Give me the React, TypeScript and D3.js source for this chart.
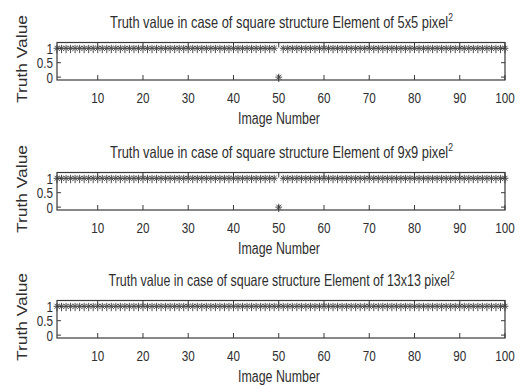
import React from "react";
import * as d3 from "d3";

// Truth values for image numbers 1..100 (one value per image)
const truth5x5 = [
  1, 1, 1, 1, 1, 1, 1, 1, 1, 1,
  1, 1, 1, 1, 1, 1, 1, 1, 1, 1,
  1, 1, 1, 1, 1, 1, 1, 1, 1, 1,
  1, 1, 1, 1, 1, 1, 1, 1, 1, 1,
  1, 1, 1, 1, 1, 1, 1, 1, 1, 0,
  1, 1, 1, 1, 1, 1, 1, 1, 1, 1,
  1, 1, 1, 1, 1, 1, 1, 1, 1, 1,
  1, 1, 1, 1, 1, 1, 1, 1, 1, 1,
  1, 1, 1, 1, 1, 1, 1, 1, 1, 1,
  1, 1, 1, 1, 1, 1, 1, 1, 1, 1,
];
const truth9x9 = [
  1, 1, 1, 1, 1, 1, 1, 1, 1, 1,
  1, 1, 1, 1, 1, 1, 1, 1, 1, 1,
  1, 1, 1, 1, 1, 1, 1, 1, 1, 1,
  1, 1, 1, 1, 1, 1, 1, 1, 1, 1,
  1, 1, 1, 1, 1, 1, 1, 1, 1, 0,
  1, 1, 1, 1, 1, 1, 1, 1, 1, 1,
  1, 1, 1, 1, 1, 1, 1, 1, 1, 1,
  1, 1, 1, 1, 1, 1, 1, 1, 1, 1,
  1, 1, 1, 1, 1, 1, 1, 1, 1, 1,
  1, 1, 1, 1, 1, 1, 1, 1, 1, 1,
];
const truth13x13 = [
  1, 1, 1, 1, 1, 1, 1, 1, 1, 1,
  1, 1, 1, 1, 1, 1, 1, 1, 1, 1,
  1, 1, 1, 1, 1, 1, 1, 1, 1, 1,
  1, 1, 1, 1, 1, 1, 1, 1, 1, 1,
  1, 1, 1, 1, 1, 1, 1, 1, 1, 1,
  1, 1, 1, 1, 1, 1, 1, 1, 1, 1,
  1, 1, 1, 1, 1, 1, 1, 1, 1, 1,
  1, 1, 1, 1, 1, 1, 1, 1, 1, 1,
  1, 1, 1, 1, 1, 1, 1, 1, 1, 1,
  1, 1, 1, 1, 1, 1, 1, 1, 1, 1,
];

const panelTitles = [
  "Truth value in case of square structure Element of 5x5 pixel",
  "Truth value in case of square structure Element of 9x9 pixel",
  "Truth value in case of square structure Element of 13x13 pixel",
];
const panelSeries = [truth5x5, truth9x9, truth13x13];
const xTicks = [10, 20, 30, 40, 50, 60, 70, 80, 90, 100];
const yTicks = [0, 0.5, 1];
const yTickLabels = ["0", "0.5", "1"];
const xDomain = [1, 100];
const yDomain = [-0.1, 1.2];
const xLabel = "Image Number";
const yLabel = "Truth Value";

const W = 524;
const H = 388;
const panelOffsets = [0, 130, 258];
const titleLengths = [343, 343, 346];

const font = "'Liberation Sans', Arial, sans-serif";
const ink = "#3a3a3a";
const txt = "#2e2e2e";
const SX = 0.78; // horizontal squeeze of the original figure's text

function NText({ x, y, anchor = "middle", size, children }: { x: number; y: number; anchor?: string; size: number; children: React.ReactNode }) {
  return (
    <text transform={`translate(${x},${y}) scale(${SX},1)`} textAnchor={anchor} fontFamily={font} fontSize={size} fill={txt}>
      {children}
    </text>
  );
}

function Panel({ values, title, oy, titleLen }: { values: number[]; title: string; oy: number; titleLen: number }) {
  const x = d3.scaleLinear().domain(xDomain).range([57, 505]);
  const y = d3.scaleLinear().domain(yDomain).range([80, 42.5]);
  const left = x(xDomain[0]);
  const right = x(xDomain[1]);
  const top = y(yDomain[1]);
  const bottom = y(yDomain[0]);
  const cx = 281.5;
  const r = 3.4;
  return (
    <g transform={`translate(0,${oy})`}>
      {/* title with superscript */}
      <text x={cx} y={27.5} textAnchor="middle" fontFamily={font} fontSize={16.5} fill={txt}
        textLength={titleLen} lengthAdjust="spacingAndGlyphs">
        {title}
        <tspan fontSize={11} dy={-7}>2</tspan>
      </text>
      {/* axes box */}
      <rect x={left} y={top} width={right - left} height={bottom - top} fill="none" stroke={ink} strokeWidth={1.2} />
      {/* x ticks */}
      {xTicks.map((t) => (
        <g key={"xt" + t}>
          <line x1={x(t)} x2={x(t)} y1={bottom} y2={bottom - 5} stroke={ink} strokeWidth={1} />
          <line x1={x(t)} x2={x(t)} y1={top} y2={top + 5} stroke={ink} strokeWidth={1} />
          <NText x={x(t)} y={102.5} size={15}>{t}</NText>
        </g>
      ))}
      {/* y ticks */}
      {yTicks.map((t, i) => (
        <g key={"yt" + t}>
          <line x1={left} x2={left + 4} y1={y(t)} y2={y(t)} stroke={ink} strokeWidth={1} />
          <line x1={right} x2={right - 4} y1={y(t)} y2={y(t)} stroke={ink} strokeWidth={1} />
          <NText x={53} y={y(t) + 5.5} anchor="end" size={15}>{yTickLabels[i]}</NText>
        </g>
      ))}
      {/* markers */}
      {values.map((v, i) => {
        const px = x(i + 1);
        const py = y(v);
        const d = r * 0.72;
        return (
          <g key={"m" + i} stroke={ink} strokeWidth={1} opacity={0.9}>
            <line x1={px - r} x2={px + r} y1={py} y2={py} />
            <line x1={px} x2={px} y1={py - r} y2={py + r + 1.5} />
            <line x1={px - d} x2={px + d} y1={py - d} y2={py + d} />
            <line x1={px - d} x2={px + d} y1={py + d} y2={py - d} />
          </g>
        );
      })}
      {/* labels */}
      <text x={279} y={123.5} textAnchor="middle" fontFamily={font} fontSize={16} fill={txt}
        textLength={82} lengthAdjust="spacingAndGlyphs">{xLabel}</text>
      <text transform={`translate(26.5,59) rotate(-90)`} textAnchor="middle" fontFamily={font} fontSize={14.5} fill={txt}
        textLength={88} lengthAdjust="spacingAndGlyphs">{yLabel}</text>
    </g>
  );
}

export default function App() {
  return (
    <svg width={W} height={H} viewBox={`0 0 ${W} ${H}`} style={{ display: "block", position: "absolute", left: 0, top: 0, background: "#fff" }}>
      <rect width={W} height={H} fill="#fff" />
      {panelSeries.map((vals, i) => (
        <Panel key={i} values={vals} title={panelTitles[i]} oy={panelOffsets[i]} titleLen={titleLengths[i]} />
      ))}
    </svg>
  );
}
